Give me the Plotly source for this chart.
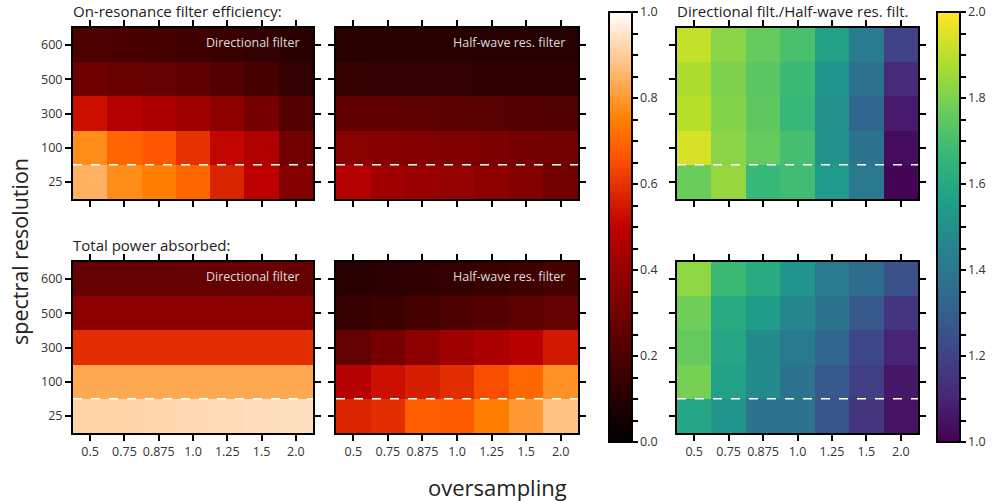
import plotly.graph_objects as go

oversampling = ["0.5", "0.75", "0.875", "1.0", "1.25", "1.5", "2.0"]
resolution = ["25", "100", "300", "500", "600"]

# rows ordered by resolution (25,100,300,500,600), columns by oversampling
eff_directional = [
    [0.845, 0.775, 0.745, 0.70, 0.57, 0.50, 0.34],
    [0.775, 0.696, 0.67, 0.60, 0.51, 0.46, 0.30],
    [0.53, 0.47, 0.445, 0.42, 0.37, 0.31, 0.22],
    [0.29, 0.275, 0.26, 0.25, 0.22, 0.18, 0.13],
    [0.20, 0.195, 0.18, 0.17, 0.15, 0.13, 0.105],
]
eff_halfwave = [
    [0.47, 0.42, 0.405, 0.39, 0.37, 0.34, 0.30],
    [0.355, 0.35, 0.34, 0.335, 0.325, 0.31, 0.30],
    [0.25, 0.245, 0.24, 0.235, 0.225, 0.22, 0.21],
    [0.135, 0.13, 0.13, 0.13, 0.125, 0.125, 0.12],
    [0.105, 0.105, 0.105, 0.105, 0.10, 0.10, 0.10],
]
eff_ratio = [
    [1.77, 1.84, 1.67, 1.69, 1.54, 1.40, 1.01],
    [1.94, 1.82, 1.76, 1.70, 1.51, 1.38, 1.03],
    [1.89, 1.81, 1.75, 1.67, 1.50, 1.33, 1.07],
    [1.88, 1.80, 1.74, 1.68, 1.52, 1.37, 1.12],
    [1.91, 1.82, 1.76, 1.71, 1.57, 1.42, 1.20],
]
pow_directional = [
    [0.915, 0.915, 0.92, 0.925, 0.93, 0.935, 0.94],
    [0.83, 0.83, 0.83, 0.83, 0.83, 0.83, 0.83],
    [0.59, 0.59, 0.59, 0.59, 0.59, 0.59, 0.59],
    [0.37, 0.37, 0.37, 0.37, 0.37, 0.37, 0.37],
    [0.26, 0.26, 0.26, 0.265, 0.265, 0.27, 0.27],
]
pow_halfwave = [
    [0.57, 0.59, 0.685, 0.68, 0.745, 0.80, 0.88],
    [0.47, 0.53, 0.56, 0.59, 0.65, 0.705, 0.785],
    [0.26, 0.31, 0.37, 0.42, 0.445, 0.485, 0.55],
    [0.145, 0.16, 0.18, 0.20, 0.22, 0.24, 0.26],
    [0.105, 0.115, 0.125, 0.14, 0.15, 0.165, 0.18],
]
pow_ratio = [
    [1.59, 1.52, 1.38, 1.38, 1.27, 1.15, 1.05],
    [1.79, 1.57, 1.48, 1.38, 1.28, 1.19, 1.06],
    [1.76, 1.59, 1.48, 1.41, 1.33, 1.22, 1.10],
    [1.78, 1.61, 1.55, 1.46, 1.38, 1.28, 1.15],
    [1.83, 1.68, 1.61, 1.52, 1.42, 1.35, 1.25],
]

gist_heat = [
    [0.0, "rgb(0,0,0)"],
    [0.5, "rgb(191,0,0)"],
    [2 / 3, "rgb(255,85,0)"],
    [0.75, "rgb(255,128,0)"],
    [1.0, "rgb(255,255,255)"],
]

W, H = 994, 501
FONT = "Open Sans"
TICKCOL = "#333333"

xcols = [(73, 313), (336, 578), (677, 918)]
yrows = [(28, 199), (262, 433)]

panels = [
    (eff_directional, 0, 0, "coloraxis", "Directional filter"),
    (eff_halfwave, 0, 1, "coloraxis", "Half-wave res. filter"),
    (eff_ratio, 0, 2, "coloraxis2", None),
    (pow_directional, 1, 0, "coloraxis", "Directional filter"),
    (pow_halfwave, 1, 1, "coloraxis", "Half-wave res. filter"),
    (pow_ratio, 1, 2, "coloraxis2", None),
]

fig = go.Figure()
layout = {}
annotations = []
shapes = []

for i, (z, r, c, cax, label) in enumerate(panels):
    n = "" if i == 0 else str(i + 1)
    xi = list(range(len(oversampling)))
    yi = list(range(len(resolution)))
    fig.add_trace(go.Heatmap(z=z, x=xi, y=yi, coloraxis=cax,
                             xaxis="x" + n, yaxis="y" + n,
                             hovertemplate="%{z}<extra></extra>"))
    x0, x1 = xcols[c]
    y0, y1 = yrows[r]
    common = dict(showline=True, linewidth=2, linecolor="black", mirror="allticks",
                  ticks="outside", ticklen=6, tickwidth=2, tickcolor="black",
                  showgrid=False, zeroline=False,
                  tickfont=dict(family=FONT, size=12.5, color=TICKCOL))
    layout["xaxis" + n] = dict(domain=[x0 / W, x1 / W], anchor="y" + n,
                               range=[-0.5, len(oversampling) - 0.5],
                               tickvals=xi, ticktext=oversampling,
                               showticklabels=(r == 1), **common)
    layout["yaxis" + n] = dict(domain=[1 - y1 / H, 1 - y0 / H], anchor="x" + n,
                               range=[-0.5, len(resolution) - 0.5],
                               tickvals=yi, ticktext=resolution,
                               showticklabels=(c == 0), **common)
    shapes.append(dict(type="line", xref="x" + n + " domain", yref="y" + n,
                       x0=0, x1=1, y0=0.5, y1=0.5,
                       line=dict(color="white", width=1.5, dash="dash")))
    if label:
        annotations.append(dict(text=label, xref="x" + n + " domain", yref="y" + n + " domain",
                                x=0.955, y=0.915, xanchor="right", yanchor="middle",
                                showarrow=False,
                                font=dict(family=FONT, size=12.5, color="#dddddd")))

annotations += [
    dict(text="On-resonance filter efficiency:", xref="paper", yref="paper",
         x=71 / W, y=1 - 11 / H, xanchor="left", yanchor="middle", showarrow=False,
         font=dict(family=FONT, size=15, color="#222222")),
    dict(text="Total power absorbed:", xref="paper", yref="paper",
         x=71 / W, y=1 - 245 / H, xanchor="left", yanchor="middle", showarrow=False,
         font=dict(family=FONT, size=15, color="#222222")),
    dict(text="Directional filt./Half-wave res. filt.", xref="paper", yref="paper",
         x=675 / W, y=1 - 11 / H, xanchor="left", yanchor="middle", showarrow=False,
         font=dict(family=FONT, size=15, color="#222222")),
    dict(text="spectral resolution", xref="paper", yref="paper",
         x=20 / W, y=1 - 252 / H, xanchor="center", yanchor="middle", showarrow=False,
         textangle=-90, font=dict(family=FONT, size=21.5, color="#222222")),
    dict(text="oversampling", xref="paper", yref="paper",
         x=497 / W, y=1 - 487 / H, xanchor="center", yanchor="middle", showarrow=False,
         font=dict(family=FONT, size=22, color="#222222")),
]

def cbar(xpx, lo, hi, step_major, n_minor):
    vals, texts = [], []
    total = int(round((hi - lo) / step_major * n_minor))
    for k in range(total + 1):
        v = lo + k * step_major / n_minor
        vals.append(round(v, 4))
        texts.append(f"{v:.1f}" if k % n_minor == 0 else "")
    return dict(x=xpx / W, xanchor="left", y=1 - 12 / H, yanchor="top",
                len=430 / H, lenmode="fraction", thickness=23, thicknessmode="pixels",
                xpad=0, ypad=0, outlinewidth=2, outlinecolor="black",
                tickmode="array", tickvals=vals, ticktext=texts,
                ticks="outside", ticklen=5, tickwidth=1.5, tickcolor="black",
                tickfont=dict(family=FONT, size=12.5, color=TICKCOL))

layout["coloraxis"] = dict(colorscale=gist_heat, cmin=0, cmax=1,
                           colorbar=cbar(609, 0.0, 1.0, 0.2, 4))
layout["coloraxis2"] = dict(colorscale="Viridis", cmin=1, cmax=2,
                            colorbar=cbar(937, 1.0, 2.0, 0.2, 4))

fig.update_layout(width=W, height=H, margin=dict(l=0, r=0, t=0, b=0),
                  paper_bgcolor="white", plot_bgcolor="white",
                  annotations=annotations, shapes=shapes, showlegend=False,
                  **layout)

fig.write_html("out.html")
